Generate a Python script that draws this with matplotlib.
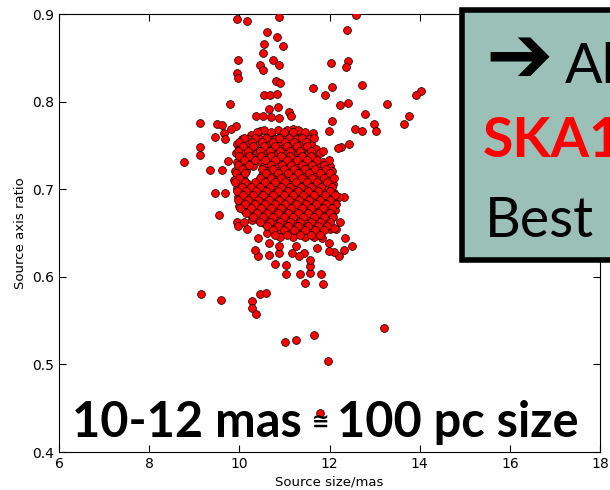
import matplotlib
matplotlib.use("Agg")
import matplotlib.pyplot as plt
from matplotlib.patches import Rectangle

# scattered sources outside the dense core
outer_x = [9.94, 10.16, 10.89, 12.58, 12.38, 10.62, 10.84, 10.97, 10.54, 10.53,
           10.74, 9.98, 10.46, 10.52, 10.89, 9.94, 9.98, 12.03, 12.40, 12.36,
           10.82, 10.91, 12.71, 12.06, 11.64, 11.91, 10.54, 10.69, 10.83, 14.02,
           13.91, 9.79, 13.28, 12.24, 12.41, 10.66, 10.86, 11.10, 11.15, 10.36,
           10.53, 10.71, 10.89, 12.78, 13.76, 13.65, 12.06, 9.13, 9.51, 9.61,
           9.92, 9.81, 12.98, 12.57, 12.72, 13.04, 11.99, 11.32, 11.19, 11.64,
           11.39, 10.45, 9.65, 9.46, 9.68, 12.44, 12.25, 12.18, 9.12, 9.13,
           8.78, 9.74, 9.36, 9.62, 9.45, 9.68, 9.56, 12.32, 12.24, 12.50,
           12.32, 12.20, 12.35, 9.16, 9.59, 10.27, 10.27, 10.37, 10.46, 10.59,
           11.02, 11.26, 11.65, 13.21, 11.97, 11.80, 11.03, 11.34, 11.57, 11.81,
           11.46, 11.86, 11.04, 10.80, 11.56, 11.56, 11.43, 11.17, 10.87, 10.66,
           10.41, 10.34, 10.41, 10.65, 10.88, 11.26, 11.73, 11.99, 12.10, 11.98,
           11.32, 11.84, 9.94, 9.96, 10.16, 10.11, 10.28, 10.62, 10.88, 12.01,
           12.14]
outer_y = [0.894, 0.892, 0.897, 0.899, 0.882, 0.879, 0.874, 0.864, 0.866, 0.855,
           0.848, 0.847, 0.842, 0.836, 0.842, 0.833, 0.827, 0.844, 0.846, 0.840,
           0.824, 0.821, 0.819, 0.817, 0.815, 0.808, 0.808, 0.808, 0.809, 0.812,
           0.808, 0.797, 0.797, 0.796, 0.798, 0.792, 0.794, 0.788, 0.783, 0.783,
           0.783, 0.782, 0.781, 0.786, 0.784, 0.775, 0.778, 0.776, 0.774, 0.773,
           0.772, 0.769, 0.774, 0.769, 0.766, 0.766, 0.767, 0.767, 0.769, 0.764,
           0.762, 0.766, 0.764, 0.760, 0.757, 0.752, 0.748, 0.747, 0.748, 0.739,
           0.731, 0.732, 0.722, 0.722, 0.696, 0.696, 0.671, 0.691, 0.663, 0.635,
           0.631, 0.624, 0.644, 0.580, 0.574, 0.572, 0.564, 0.558, 0.580, 0.581,
           0.526, 0.528, 0.534, 0.541, 0.504, 0.444, 0.603, 0.603, 0.604, 0.603,
           0.593, 0.592, 0.614, 0.615, 0.612, 0.619, 0.627, 0.627, 0.627, 0.625,
           0.624, 0.631, 0.644, 0.639, 0.635, 0.635, 0.633, 0.639, 0.628, 0.629,
           0.624, 0.644, 0.663, 0.658, 0.654, 0.663, 0.665, 0.650, 0.652, 0.654,
           0.654]

# dense core, read row by row (axis ratio -> source sizes)
core_y = [0.768, 0.762, 0.757, 0.752, 0.746, 0.741, 0.736, 0.731, 0.726, 0.721,
          0.716, 0.711, 0.706, 0.701, 0.696, 0.691, 0.686, 0.681, 0.676, 0.671,
          0.666, 0.661, 0.656, 0.651, 0.645]
core_x = [
    [10.55, 10.85, 11.05, 11.3],
    [10.25, 10.7, 10.95, 11.15, 11.5],
    [10.05, 10.2, 10.45, 10.8, 11.0, 11.25, 11.55],
    [9.95, 10.15, 10.35, 10.6, 10.9, 11.1, 11.35, 11.6],
    [10.0, 10.25, 10.5, 10.72, 10.95, 11.2, 11.4, 11.7],
    [9.92, 10.1, 10.4, 10.6, 10.85, 11.05, 11.3, 11.55, 11.8],
    [10.05, 10.3, 10.55, 10.75, 11.0, 11.2, 11.45, 11.65],
    [9.95, 10.2, 10.45, 10.65, 10.9, 11.15, 11.35, 11.6, 11.85],
    [10.1, 10.3, 10.55, 10.8, 11.05, 11.25, 11.5, 11.75, 12.0],
    [9.9, 10.15, 10.62, 10.88, 11.1, 11.35, 11.55, 11.8, 12.05],
    [10.0, 10.5, 10.72, 10.95, 11.2, 11.42, 11.65, 11.9],
    [9.88, 10.1, 10.58, 10.8, 11.05, 11.3, 11.5, 11.75, 12.0],
    [10.0, 10.2, 10.45, 10.68, 10.9, 11.15, 11.38, 11.6, 11.85, 12.08],
    [9.95, 10.12, 10.35, 10.55, 10.8, 11.0, 11.25, 11.48, 11.7, 11.95],
    [10.05, 10.25, 10.5, 10.72, 10.95, 11.18, 11.4, 11.62, 11.88, 12.1],
    [9.97, 10.18, 10.4, 10.62, 10.85, 11.08, 11.3, 11.52, 11.78, 12.0, 12.2],
    [10.08, 10.3, 10.52, 10.75, 10.98, 11.2, 11.42, 11.65, 11.9, 12.1],
    [10.0, 10.22, 10.45, 10.68, 10.9, 11.12, 11.35, 11.58, 11.8, 12.02],
    [10.1, 10.35, 10.58, 10.8, 11.02, 11.25, 11.48, 11.7, 11.95, 12.12],
    [10.25, 10.5, 10.72, 10.95, 11.18, 11.4, 11.62, 11.85, 12.05],
    [10.4, 10.62, 10.85, 11.08, 11.3, 11.52, 11.75, 11.98],
    [10.55, 10.78, 11.0, 11.22, 11.45, 11.68, 11.9],
    [10.7, 10.92, 11.15, 11.38, 11.6, 11.82, 12.1],
    [10.85, 11.1, 11.3, 11.55, 11.75],
    [10.9, 11.2, 11.45, 11.65],
]

# second pass over the core, between the rows above
core2_y = [0.765, 0.759, 0.754, 0.749, 0.744, 0.738, 0.733, 0.728, 0.723, 0.718,
           0.713, 0.708, 0.703, 0.698, 0.693, 0.688, 0.683, 0.678, 0.673, 0.668,
           0.663, 0.658, 0.653, 0.648]
core2_x = [
    [10.4, 10.7, 10.98, 11.2, 11.45],
    [10.1, 10.35, 10.6, 10.88, 11.1, 11.38, 11.65],
    [10.0, 10.28, 10.5, 10.75, 11.02, 11.22, 11.48],
    [10.08, 10.3, 10.55, 10.8, 11.05, 11.28, 11.5],
    [9.98, 10.2, 10.45, 10.68, 10.9, 11.12, 11.35, 11.6, 11.85],
    [10.0, 10.22, 10.48, 10.7, 10.92, 11.12, 11.38, 11.58],
    [10.1, 10.35, 10.58, 10.8, 11.05, 11.28, 11.5, 11.72, 11.98],
    [9.98, 10.22, 10.7, 10.95, 11.15, 11.4, 11.62, 11.88],
    [10.05, 10.5, 10.75, 11.0, 11.22, 11.45, 11.68, 11.92],
    [9.92, 10.12, 10.6, 10.85, 11.08, 11.3, 11.55, 11.78, 12.02],
    [10.0, 10.45, 10.7, 10.92, 11.18, 11.4, 11.62, 11.88, 12.1],
    [9.9, 10.12, 10.35, 10.58, 10.8, 11.02, 11.25, 11.5, 11.72, 11.95],
    [10.05, 10.25, 10.45, 10.68, 10.92, 11.12, 11.36, 11.58, 11.82, 12.05],
    [9.95, 10.15, 10.38, 10.6, 10.85, 11.08, 11.3, 11.52, 11.75, 12.0],
    [10.08, 10.3, 10.52, 10.75, 10.98, 11.2, 11.42, 11.65, 11.9, 12.12],
    [9.98, 10.2, 10.42, 10.65, 10.88, 11.1, 11.32, 11.55, 11.78, 12.02],
    [10.12, 10.35, 10.58, 10.8, 11.02, 11.25, 11.48, 11.7, 11.92, 12.15],
    [10.02, 10.25, 10.48, 10.7, 10.92, 11.15, 11.38, 11.6, 11.85, 12.05],
    [10.15, 10.4, 10.62, 10.85, 11.08, 11.3, 11.52, 11.75, 12.0],
    [10.3, 10.52, 10.75, 10.98, 11.2, 11.42, 11.65, 11.88, 12.08],
    [10.45, 10.68, 10.9, 11.12, 11.35, 11.58, 11.8, 12.02],
    [10.62, 10.85, 11.08, 11.3, 11.52, 11.75, 11.95],
    [10.75, 11.0, 11.22, 11.45, 11.68, 11.88],
    [10.8, 11.05, 11.35, 11.58, 11.8],
]

x_ticks = [6, 8, 10, 12, 14, 16, 18]
y_ticks = [0.4, 0.5, 0.6, 0.7, 0.8, 0.9]

xs = list(outer_x)
ys = list(outer_y)
for rows_y, rows_x in ((core_y, core_x), (core2_y, core2_x)):
    for yv, row in zip(rows_y, rows_x):
        xs += row
        ys += [yv] * len(row)

fig = plt.figure(figsize=(6.1, 4.9), dpi=100)
ax = fig.add_axes([59 / 610, 38 / 490, 541 / 610, 438 / 490])

ax.scatter(xs, ys, s=32, c="red", edgecolors="black", linewidths=0.5, zorder=3)

ax.set_xlim(6, 18)
ax.set_ylim(0.4, 0.9)
ax.set_xticks(x_ticks)
ax.set_yticks(y_ticks)
ax.set_yticklabels([f"{v:.1f}" for v in y_ticks])
ax.tick_params(direction="in", top=True, right=True, length=5, labelsize=10)
ax.set_xlabel("Source size/mas", fontsize=9.5, labelpad=3)
ax.set_ylabel("Source axis ratio", fontsize=9.5, labelpad=4)

# big slide annotation at the bottom of the plot
big = dict(family=["Lato", "DejaVu Sans"], fontweight="bold", fontsize=35,
           ha="left", va="baseline", color="black", zorder=5)
fig.text(72 / 610, 1 - 437 / 490, "10-12 mas", **big)
fig.text(312 / 610, 1 - 428 / 490, "\u2245", family=["DejaVu Sans"],
         fontweight="bold", fontsize=15, ha="left", va="baseline", zorder=5)
fig.text(337 / 610, 1 - 437 / 490, "100 pc size", **big)

# overlaid box at the top right (cut off by the slide edge)
box = Rectangle((462 / 610, 1 - 260 / 490), 200 / 610, 250 / 490,
                transform=fig.transFigure, facecolor="#9bc0b8",
                edgecolor="black", linewidth=4, zorder=10)
fig.patches.append(box)

fig.text(485 / 610, 1 - 60 / 490, "\u2794", family=["DejaVu Sans"],
         fontsize=58, fontweight="bold", ha="left", va="center", zorder=11)
fig.text(565 / 610, 1 - 83 / 490, "Al", family=["Lato", "DejaVu Sans"],
         fontsize=40, ha="left", va="baseline", zorder=11)
fig.text(483 / 610, 1 - 157 / 490, "SKA1", family=["Lato", "DejaVu Sans"],
         fontsize=40, fontweight="bold", color="red", ha="left",
         va="baseline", zorder=11)
fig.text(485 / 610, 1 - 237 / 490, "Best", family=["Lato", "DejaVu Sans"],
         fontsize=40, ha="left", va="baseline", zorder=11)

fig.savefig("out.png", dpi=100)
